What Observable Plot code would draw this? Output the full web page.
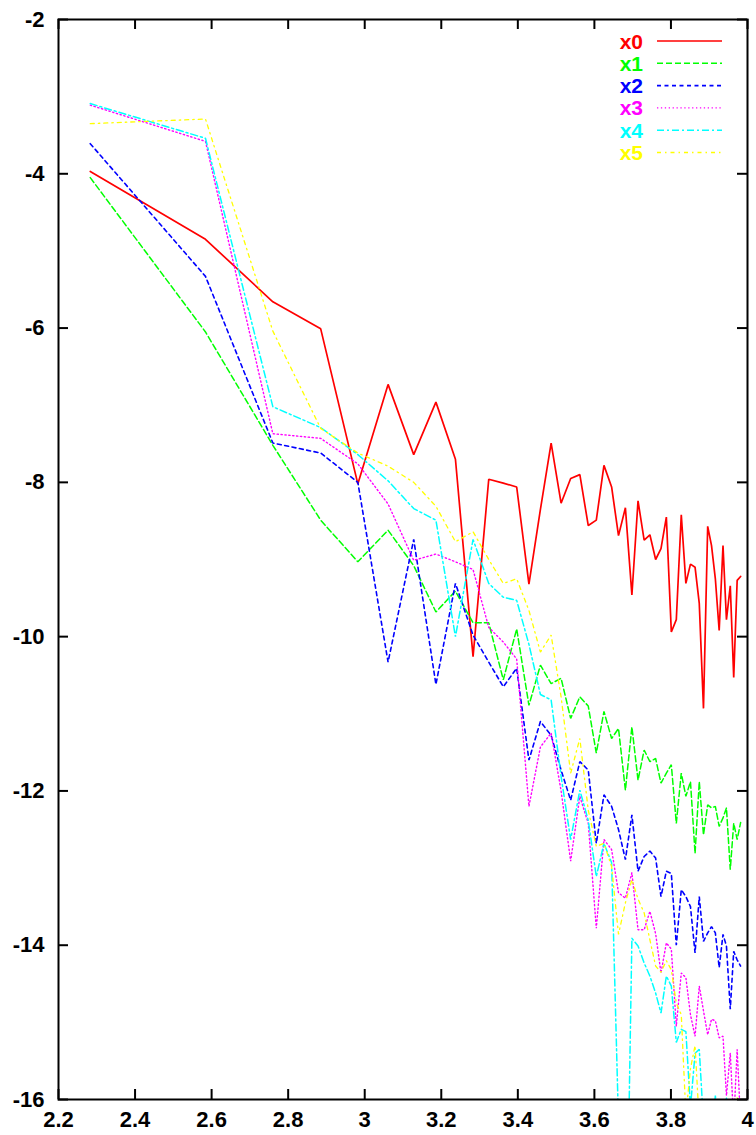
<!DOCTYPE html>
<html><head><meta charset="utf-8">
<script src="https://cdn.jsdelivr.net/npm/d3@7"></script>
<script src="https://cdn.jsdelivr.net/npm/@observablehq/plot@0.6"></script>
<style>body{margin:0;background:#fff} #chart svg{display:block}</style>
</head><body><div id="chart"></div>
<script>
const xs = [2.283,2.584,2.760,2.885,2.982,3.061,3.128,3.186,3.237,3.283,3.324,3.362,3.397,3.429,3.459,3.487,3.513,3.538,3.562,3.584,3.605,3.625,3.645,3.663,3.681,3.698,3.714,3.730,3.745,3.760,3.774,3.788,3.801,3.814,3.827,3.839,3.851,3.863,3.874,3.885,3.896,3.906,3.916,3.926,3.936,3.945,3.955,3.964,3.973,3.982];
const x0 = [-3.97,-4.85,-5.66,-6.01,-8.02,-6.73,-7.64,-6.96,-7.70,-10.26,-7.96,-8.01,-8.06,-9.32,-8.35,-7.49,-8.27,-7.95,-7.90,-8.56,-8.49,-7.78,-8.06,-8.69,-8.33,-9.46,-8.24,-8.75,-8.68,-9.00,-8.86,-8.45,-9.94,-9.78,-8.42,-9.31,-9.06,-9.10,-9.57,-10.93,-8.57,-8.82,-9.25,-9.92,-8.82,-9.78,-9.34,-10.53,-9.27,-9.22];
const x1 = [-4.05,-6.05,-7.52,-8.49,-9.03,-8.62,-9.08,-9.68,-9.41,-9.82,-9.82,-10.56,-9.90,-10.89,-10.37,-10.61,-10.54,-11.06,-10.78,-10.90,-11.51,-10.97,-11.32,-11.19,-11.99,-11.17,-11.86,-11.47,-11.62,-11.58,-11.90,-11.77,-11.66,-12.42,-11.77,-12.07,-11.88,-12.81,-11.88,-12.57,-12.18,-12.22,-12.20,-12.46,-12.35,-12.22,-13.02,-12.42,-12.63,-12.41];
const x2 = [-3.61,-5.33,-7.49,-7.62,-8.00,-10.33,-8.74,-10.62,-9.31,-9.98,-10.33,-10.65,-10.41,-11.60,-11.10,-11.28,-11.73,-12.12,-11.62,-11.73,-12.68,-12.05,-12.20,-12.50,-12.89,-12.31,-13.04,-12.85,-12.78,-12.87,-13.37,-13.04,-13.07,-14.00,-13.28,-13.37,-13.50,-14.10,-13.37,-13.95,-13.84,-13.76,-13.84,-14.29,-13.86,-14.01,-14.83,-14.08,-14.19,-14.27];
const x3 = [-3.11,-3.58,-7.37,-7.43,-7.76,-8.28,-9.01,-8.93,-9.03,-9.13,-9.88,-10.07,-10.29,-12.20,-11.43,-11.25,-12.00,-12.91,-12.07,-12.42,-13.78,-12.63,-12.76,-13.32,-13.39,-13.06,-13.80,-13.80,-13.56,-13.85,-14.36,-13.97,-14.05,-15.05,-14.36,-14.42,-14.90,-15.18,-14.53,-14.85,-15.16,-14.96,-14.98,-15.20,-15.18,-15.95,-15.40,-16.30,-15.35,-16.30];
const x4 = [-3.09,-3.54,-7.02,-7.29,-7.64,-7.98,-8.34,-8.49,-10.00,-8.74,-9.31,-9.49,-9.53,-10.10,-10.75,-10.82,-11.81,-12.63,-11.99,-12.38,-13.11,-12.68,-12.93,-16.30,-19.00,-13.91,-14.01,-14.23,-14.40,-14.62,-14.88,-14.40,-14.53,-15.26,-15.09,-15.12,-16.10,-15.40,-15.35,-16.30,-17.00,-16.50,-15.95,-16.50,-16.30,-15.97,-17.00,-17.50,-17.00,-17.50];
const x5 = [-3.35,-3.29,-6.04,-7.30,-7.62,-7.79,-8.00,-8.31,-8.77,-8.64,-9.00,-9.31,-9.25,-9.66,-10.20,-9.98,-10.78,-11.77,-11.32,-12.25,-12.72,-12.68,-12.98,-13.86,-13.45,-13.15,-13.40,-13.58,-13.93,-14.27,-14.35,-14.20,-14.32,-14.75,-14.90,-16.20,-15.60,-15.30,-16.30,-17.00,-16.60,-17.00,-16.50,-17.00,-17.00,-16.80,-17.00,-16.50,-15.98,-17.00];

const seriesNames = ["x0","x1","x2","x3","x4","x5"];
const seriesValues = [x0,x1,x2,x3,x4,x5];
const xTicks = [2.2,2.4,2.6,2.8,3,3.2,3.4,3.6,3.8,4];
const yTicks = [-16,-14,-12,-10,-8,-6,-4,-2];

const colors = ["#ff0000","#00ff00","#0000ff","#ff00ff","#00ffff","#ffff00"];
const dashes = [null,"6,3","4,3.5","1.3,2.6","7,3,2,3","4,4,1.5,4"];
const widths = [1.7,1.5,1.6,1.4,1.5,1.3];

const rows = [];
seriesNames.forEach((name,i)=> seriesValues[i].forEach((v,j)=> rows.push({series:name, x: xs[j], y: v})));

const W=756, H=1135, mL=58, mR=9, mT=19, mB=36;
const innerW = W-mL-mR, innerH = H-mT-mB;
const tickLen = 10;
const font = "'Liberation Sans', Arial, Helvetica, sans-serif";

const marks = [];
seriesNames.forEach((name,i)=>{
  marks.push(Plot.line(rows.filter(r=>r.series===name), {
    x:"x", y:"y", stroke: colors[i], strokeWidth: widths[i],
    strokeDasharray: dashes[i], clip: true, strokeLinejoin: "miter"
  }));
});
marks.push(Plot.tickY(yTicks, {y: d=>d, insetRight: innerW - tickLen, stroke:"black", strokeWidth:2}));
marks.push(Plot.tickY(yTicks, {y: d=>d, insetLeft: innerW - tickLen, stroke:"black", strokeWidth:2}));
marks.push(Plot.tickX(xTicks, {x: d=>d, insetTop: innerH - tickLen, stroke:"black", strokeWidth:2}));
marks.push(Plot.tickX(xTicks, {x: d=>d, insetBottom: innerH - tickLen, stroke:"black", strokeWidth:2}));
marks.push(Plot.axisX(xTicks, {anchor:"bottom", label:null, tickSize:0, tickPadding:12, tickFormat: d=>String(d), fontSize:22, fontWeight:"bold", fill:"black"}));
marks.push(Plot.axisY(yTicks, {anchor:"left", label:null, tickSize:0, tickPadding:14, tickFormat: d=>String(d), fontSize:22, fontWeight:"bold", fill:"black"}));
marks.push(Plot.frame({stroke:"black", strokeWidth:2}));

const chart = Plot.plot({
  width: W, height: H,
  marginLeft: mL, marginRight: mR, marginTop: mT, marginBottom: mB,
  x: {domain:[2.2,4], axis:null, label:null},
  y: {domain:[-16,-2], axis:null, label:null},
  style: {fontFamily: font, background:"#fff", overflow:"visible"},
  marks
});

// legend (gnuplot style, top-right inside the frame)
const svg = d3.select(chart);
const lg = svg.append("g");
const textRight = W - mR - 104, lineX1 = W - mR - 90, lineX2 = W - mR - 25;
seriesNames.forEach((name,i)=>{
  const cy = mT + 22 + i*22.3;
  lg.append("text").attr("x", textRight).attr("y", cy).attr("dy","0.36em")
    .attr("text-anchor","end").attr("font-family", font).attr("font-size", 21)
    .attr("font-weight","bold").attr("fill", colors[i]).text(name);
  lg.append("line").attr("x1", lineX1).attr("x2", lineX2).attr("y1", cy).attr("y2", cy)
    .attr("stroke", colors[i]).attr("stroke-width", widths[i])
    .attr("stroke-dasharray", dashes[i]);
});
document.getElementById("chart").appendChild(chart);
</script>
</body></html>
